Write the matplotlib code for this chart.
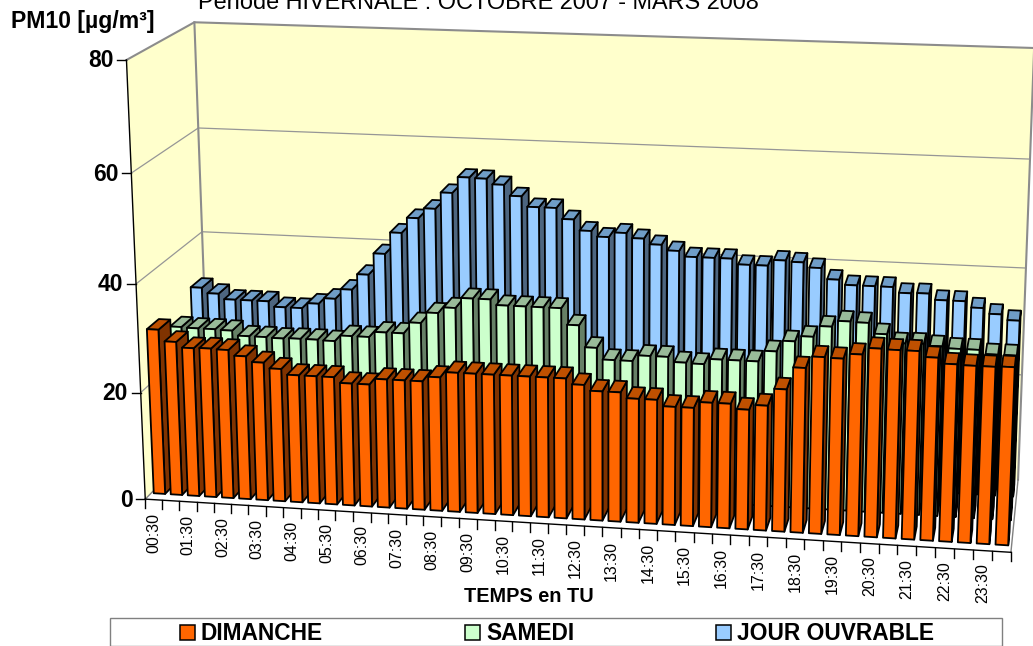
import numpy as np
import matplotlib
matplotlib.use("Agg")
import matplotlib.pyplot as plt
from matplotlib.patches import Patch, Polygon, Rectangle

plt.rcParams['font.family'] = ['Liberation Sans', 'DejaVu Sans']

W, H = 1033, 646

tick_labels = ["00:30", "01:30", "02:30", "03:30", "04:30", "05:30", "06:30", "07:30",
               "08:30", "09:30", "10:30", "11:30", "12:30", "13:30", "14:30", "15:30",
               "16:30", "17:30", "18:30", "19:30", "20:30", "21:30", "22:30", "23:30"]
y_ticks = [0, 20, 40, 60, 80]

dimanche = [30.8, 28.7, 27.7, 27.8, 27.7, 26.7, 25.7, 24.7, 23.7, 23.7, 23.7, 22.7,
            22.7, 23.8, 23.8, 23.8, 24.7, 25.7, 25.7, 25.7, 25.7, 25.7, 25.7, 25.7,
            24.7, 23.7, 23.7, 22.7, 22.7, 21.6, 21.6, 22.7, 22.7, 21.8, 22.7, 25.8,
            29.8, 31.9, 31.8, 32.7, 33.9, 33.8, 33.8, 32.8, 31.8, 31.7, 31.7, 31.8]
samedi = [27.7, 27.6, 27.6, 27.5, 26.6, 26.6, 26.5, 26.6, 26.6, 26.5, 27.6, 27.6,
          28.6, 28.6, 30.7, 32.7, 33.8, 35.7, 35.7, 34.7, 34.7, 34.7, 34.7, 31.7,
          27.7, 25.6, 25.6, 26.7, 26.7, 25.8, 25.7, 26.7, 26.7, 26.7, 28.7, 30.7,
          31.7, 33.7, 34.8, 34.7, 32.8, 31.3, 31.4, 31.1, 30.8, 30.8, 30.1, 30.1]
ouvrable = [31.7, 30.7, 29.7, 29.7, 29.7, 28.7, 28.7, 29.7, 30.8, 32.7, 35.7, 39.8,
            43.9, 46.8, 48.7, 51.8, 54.8, 54.7, 53.7, 51.7, 49.8, 49.8, 47.8, 45.8,
            44.8, 45.7, 44.8, 43.8, 42.8, 41.8, 41.8, 41.8, 40.8, 40.8, 41.9, 41.7,
            40.8, 38.8, 37.9, 37.9, 37.9, 36.9, 37.0, 35.9, 35.9, 34.8, 33.8, 32.8]

# name, values, depth slot, then colours: front, side, top
series = [
    ("JOUR OUVRABLE", ouvrable, 0.753, "#99CCFF", "#4D6680", "#6F9DC7"),
    ("SAMEDI", samedi, 0.42, "#CCFFCC", "#668066", "#99BB99"),
    ("DIMANCHE", dimanche, 0.087, "#FF6600", "#803300", "#BF5000"),
]
BAR_DEPTH = 0.175
BAR_LEFT, BAR_RIGHT = 0.15, 0.82


def fit_camera():
    # (category, depth, value) -> pixel, corners
    pts = [(0, 0, 80, 126.5, 60), (0, 0, 60, 131.5, 173), (0, 0, 40, 136, 284),
           (0, 0, 20, 140.7, 393), (0, 0, 0, 145, 499),
           (0, 1, 80, 194.5, 22), (0, 1, 60, 198, 128), (0, 1, 40, 202, 232),
           (0, 1, 20, 206, 334), (0, 1, 0, 209.5, 433),
           (48, 1, 80, 1034, 48), (48, 1, 60, 1030, 159), (48, 1, 40, 1026, 268),
           (48, 1, 20, 1022, 375), (48, 1, 0, 1018, 480), (48, 0, 0, 1011, 552)]
    rows, rhs = [], []
    for x, d, z, u, v in pts:
        rows.append([x, d, z, 1, 0, 0, 0, 0, -u * x, -u * d, -u * z])
        rows.append([0, 0, 0, 0, x, d, z, 1, -v * x, -v * d, -v * z])
        rhs += [u, v]
    sol = np.linalg.lstsq(np.array(rows, float), np.array(rhs, float), rcond=None)[0]
    return np.append(sol, 1).reshape(3, 4)


CAM = fit_camera()


def proj(x, d, z):
    p = CAM @ np.array([x, d, z, 1.0])
    return p[0] / p[2], p[1] / p[2]


fig = plt.figure(figsize=(W / 100, H / 100), dpi=100, facecolor="white")
ax = fig.add_axes([0, 0, 1, 1])
ax.set_xlim(0, W)
ax.set_ylim(H, 0)
ax.axis("off")

# walls and floor
ax.add_patch(Polygon([proj(0, 0, 0), proj(0, 1, 0), proj(0, 1, 80), proj(0, 0, 80)],
                     fc="#FFFFCC", ec="none"))
ax.add_patch(Polygon([proj(0, 1, 0), proj(48, 1, 0), proj(48, 1, 80), proj(0, 1, 80)],
                     fc="#FFFFCC", ec="none"))
for z in y_ticks[1:-1]:
    ax.plot(*zip(proj(0, 0, z), proj(0, 1, z), proj(48, 1, z)), color="#969696", lw=0.9)
ax.plot(*zip(proj(0, 0, 80), proj(0, 1, 80), proj(48, 1, 80)), color="#8C8C8C", lw=1.5)
ax.plot(*zip(proj(0, 1, 0), proj(0, 1, 80)), color="#8C8C8C", lw=1.5)
ax.plot(*zip(proj(48, 1, 0), proj(48, 1, 80)), color="#8C8C8C", lw=1.5)
ax.plot(*zip(proj(0, 0, 0), proj(0, 1, 0)), color="#808080", lw=1.0)
ax.plot(*zip(proj(48, 0, 0), proj(48, 1, 0)), color="#808080", lw=1.0)

# bars, back series first, left to right
for name, vals, d0, front, side, top in series:
    d1 = d0 + BAR_DEPTH
    for i, v in enumerate(vals):
        x0, x1 = i + BAR_LEFT, i + BAR_RIGHT
        faces = [
            ([proj(x1, d0, 0), proj(x1, d1, 0), proj(x1, d1, v), proj(x1, d0, v)], side),
            ([proj(x0, d0, v), proj(x1, d0, v), proj(x1, d1, v), proj(x0, d1, v)], top),
            ([proj(x0, d0, 0), proj(x1, d0, 0), proj(x1, d0, v), proj(x0, d0, v)], front),
        ]
        for pts, col in faces:
            ax.add_patch(Polygon(pts, fc=col, ec="black", lw=1.3, joinstyle="round", zorder=3))

# axes lines
ax.plot(*zip(proj(0, 0, 0), proj(0, 0, 80)), color="black", lw=1.0, zorder=4)
ax.plot(*zip(proj(0, 0, 0), proj(48, 0, 0)), color="black", lw=1.0, zorder=4)
for z in y_ticks:
    x, y = proj(0, 0, z)
    ax.plot([x - 9, x], [y, y], color="black", lw=1.0)
    ax.text(x - 13, y + 1, str(z), ha="right", va="center", fontsize=16.4, fontweight="bold")
for i in range(len(dimanche) + 1):
    x, y = proj(i, 0, 0)
    ax.plot([x, x], [y, y + 9], color="black", lw=1.0)
for i, lab in enumerate(tick_labels):
    x, y = proj(2 * i + 0.5, 0, 0)
    ax.text(x, y + 13, lab, rotation=90, ha="center", va="top", fontsize=11.5)

ax.text(478.5, 9, "Période HIVERNALE : OCTOBRE 2007 - MARS 2008", ha="center", va="baseline",
        fontsize=16.9)
ax.text(11, 28, "PM10 [µg/m³]", ha="left", va="baseline", fontsize=16.6, fontweight="bold")
ax.text(529, 596, "TEMPS en TU", ha="center", va="center", fontsize=14.3, fontweight="bold")

# legend
ax.add_patch(Rectangle((109.5, 617.5), 892.5, 28, fc="white", ec="#808080", lw=1.0))
handles = [Patch(fc=s[3], ec="black", lw=1.1) for s in series[::-1]]
labels = [s[0] for s in series[::-1]]
ax.legend(handles, labels, ncol=3, mode="expand", frameon=False, loc="lower left",
          bbox_to_anchor=(180 / W, 1 - 645.5 / H, 754 / W, 27 / H), bbox_transform=fig.transFigure,
          borderpad=0, borderaxespad=0, handlelength=0.66, handleheight=0.66, handletextpad=0.26,
          prop={"size": 16.4, "weight": "bold"})

fig.savefig("out.png", dpi=100)
